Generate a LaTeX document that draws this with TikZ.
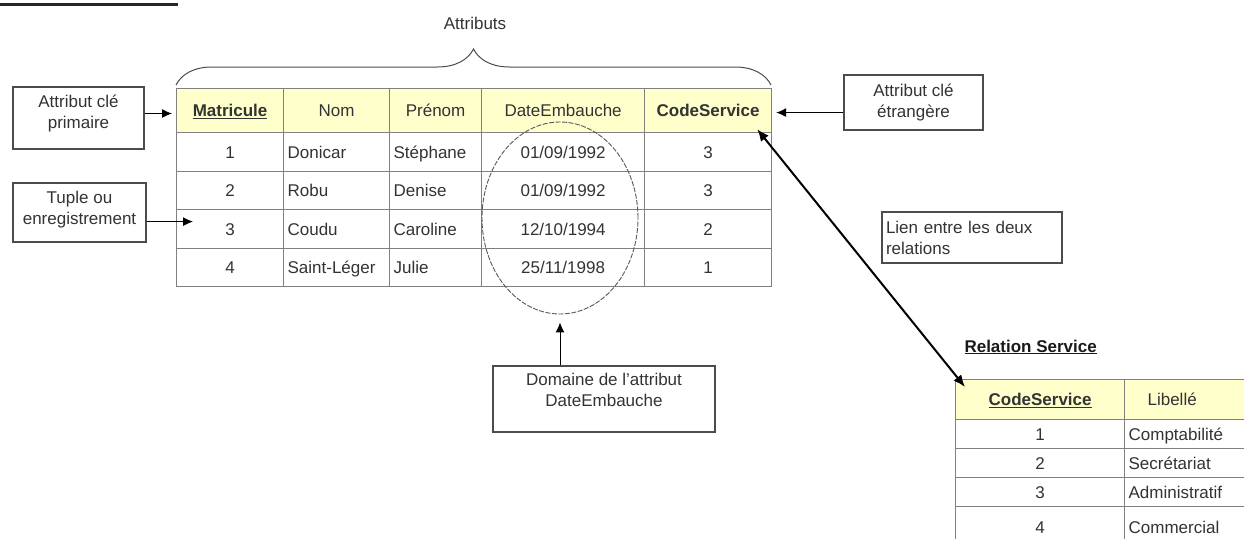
\documentclass[tikz,border=0pt]{standalone}
\usepackage{fontspec}
\setmainfont{Liberation Sans}
\usepackage{tikz}
\usetikzlibrary{arrows.meta,shapes.geometric,decorations.pathreplacing,positioning,calc}
\definecolor{hdrfill}{HTML}{FFFFCC}
\definecolor{gridcol}{HTML}{808080}
\tikzstyle{cell}=[draw=gridcol, line width=1.2pt, inner sep=0pt, anchor=north west, text=black!80, text height=12pt, text depth=0pt]
\tikzstyle{lcell}=[cell, inner xsep=4pt, align=left]
\tikzstyle{note}=[draw=black!70, line width=1.1pt, inner sep=0pt]
\tikzstyle{lab}=[text=black!80, align=center]
\tikzstyle{arr}=[-{Latex[length=10pt,width=9pt]}, line width=1pt]
\newcommand{\hd}[1]{\textbf{\underline{#1}}}

\begin{document}
\begin{tikzpicture}[x=1pt, y=-1pt, font=\fontsize{17}{21}\selectfont]
        \clip (0,0) rectangle (1244,538);
        \fill[white] (0,0) rectangle (1244,538);
        % cut title
        \draw[line width=2.5pt, black!85] (0,4.5) -- (178,4.5);
        %
        % relation salarie
        \foreach \x/\w/\t [count=\i] in {176/107/{\hd{Matricule}}, 283/106/Nom, 389/92/Prénom, 481/163/DateEmbauche, 644/127/{\textbf{CodeService}}}
          \node[cell, fill=hdrfill, minimum width=\w, minimum height=44] (h\i) at (\x,88) {\t};
        \foreach \y/\h/\m/\n/\p/\d/\c [count=\r] in {132/39/1/Donicar/Stéphane/{01/09/1992}/3, 171/38/2/Robu/Denise/{01/09/1992}/3, 209/39/3/Coudu/Caroline/{12/10/1994}/2, 248/38/4/Saint-Léger/Julie/{25/11/1998}/1}{
          \node[cell, minimum width=107, minimum height=\h] (r\r-1) at (176,\y) {\m};
          \node[lcell, text width=98, minimum height=\h] (r\r-2) at (283,\y) {\n};
          \node[lcell, text width=84, minimum height=\h] (r\r-3) at (389,\y) {\p};
          \node[cell, minimum width=163, minimum height=\h] (r\r-4) at (481,\y) {\d};
          \node[cell, minimum width=127, minimum height=\h] (r\r-5) at (644,\y) {\c};
        }
        %
        \draw[decorate, decoration={brace, amplitude=36pt}, line width=1pt, black!70] (176,85) -- (771,85);
        \node[lab] (attr) at (475,23) {Attributs};
        %
        \node[draw=black!65, line width=0.9pt, dash pattern=on 5pt off 1.5pt, ellipse, minimum width=156, minimum height=192, inner sep=0pt] (ell) at (560,218) {};
        %
        % relation service
        \node[anchor=west, text=black!90] (srvtitle) at (961,347) {\hd{Relation Service}};
        \node[cell, fill=hdrfill, minimum width=169, minimum height=40] (sh1) at (955,379) {\hd{CodeService}};
        \node[lcell, fill=hdrfill, inner xsep=23pt, text width=110, minimum height=40] (sh2) at (1124,379) {Libellé};
        \foreach \y/\h/\m/\l [count=\r] in {419/29/1/Comptabilité, 448/29/2/Secrétariat, 477/29/3/Administratif, 506/42/4/Commercial}{
          \node[cell, minimum width=169, minimum height=\h] (s\r-1) at (955,\y) {\m};
          \node[lcell, text width=148, minimum height=\h] (s\r-2) at (1124,\y) {\l};
        }
        %
        % notes
        \node[note, minimum width=131, minimum height=62] (pk) at (78.5,118) {};
        \node[lab] (pktxt) at (78.5,113.5) {Attribut clé\\primaire};
        \node[note, minimum width=133, minimum height=59] (tp) at (79.5,212.5) {};
        \node[lab] (tptxt) at (79.5,210) {Tuple ou\\enregistrement};
        \node[note, lab, minimum width=139, minimum height=55] (fk) at (913.5,102.5) {Attribut clé\\étrangère};
        \node[note, lab, align=left, inner xsep=4pt, text width=172, minimum height=51] (lnk) at (972,237.5) {Lien entre les deux\\relations};
        \node[note, minimum width=222, minimum height=66] (dom) at (604,399) {};
        \node[lab] (domtxt) at (604,390) {Domaine de l'attribut\\DateEmbauche};
        %
        \coordinate (tupend) at ([xshift=17pt,yshift=7.5pt]r3-1.west);
        \coordinate (fkend) at ([xshift=4pt,yshift=-2pt]h5.east);
        \draw[arr] (pk.east |- pktxt) -- ([xshift=-4pt]h1.west |- pktxt);
        \draw[arr] (tp.east |- tupend) -- (tupend);
        \draw[arr] (fk.west |- fkend) -- (fkend);
        \draw[arr] (dom.north -| ell.south) -- ([yshift=-8pt]ell.south);
        \draw[{Latex[length=12pt,width=10pt]}-{Latex[length=12pt,width=10pt]}, line width=2pt] ([xshift=-15pt,yshift=4pt]h5.south east) -- ([xshift=10pt,yshift=-8pt]sh1.north west);
      %
      \end{tikzpicture}
\end{document}
